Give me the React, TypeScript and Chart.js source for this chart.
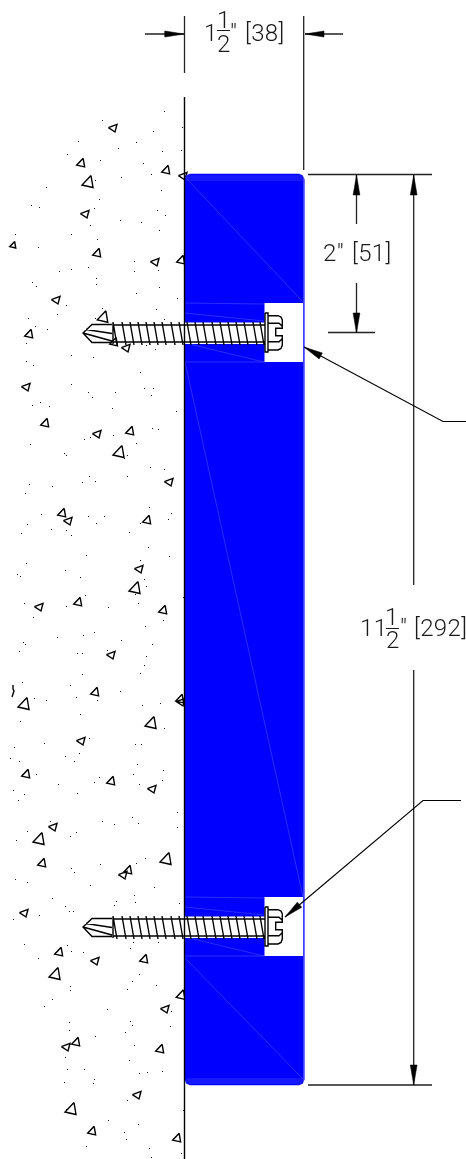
import React, { useEffect, useRef } from "react";
import { Chart, registerables } from "chart.js";

Chart.register(...registerables);

type P = [number, number];

const W = 466;
const H = 1159;
const GAP: P = [NaN, NaN];

// Aggregate grains: large-ish triangles whose flat base faces down [x, y, size]
const grainsUp: [number, number, number][] = [
  [81, 163, 0.72], [88, 182, 1], [166, 170, 0.72], [13, 245, 0.55], [97, 253, 0.72], [181, 260, 0.72],
  [103, 317, 0.95], [29, 334, 0.72], [114, 342, 0.7], [45, 423, 0.72], [130, 431, 0.72], [119, 452, 1],
  [62, 513, 0.72], [147, 520, 0.72], [135, 588, 1], [78, 602, 0.72], [163, 610, 0.72], [95, 692, 0.72],
  [24, 704, 1], [180, 699, 0.72], [151, 723, 1], [26, 774, 0.72], [111, 781, 0.72], [39, 839, 1],
  [42, 863, 0.72], [166, 859, 1], [128, 870, 0.72], [59, 952, 0.72], [144, 959, 0.72], [55, 974, 1],
  [181, 995, 0.8], [76, 1042, 0.72], [160, 1049, 0.72], [71, 1109, 1], [92, 1131, 0.72], [177, 1138, 0.72],
];
// Aggregate grains: triangles pointing left [x, y]
const grainsLeft: P[] = [
  [113, 128], [183, 176], [85, 214], [155, 262], [56, 300], [126, 348], [26, 387], [97, 434], [169, 482],
  [68, 521], [139, 569], [39, 607], [111, 655], [181, 702], [81, 741], [152, 789], [53, 827], [123, 875],
  [24, 913], [95, 961], [165, 1009], [66, 1047], [137, 1095],
];
// Small nick of a broken grain near the left edge
const grainNick: P[] = [[13, 685], [13, 689], [14, 691], [12, 697]];
// Sand specks
const specks: P[] = [
  [164,111],[102,120],[153,131],[182,127],[78,141],[136,142],[118,148],[162,151],[181,150],[67,154],[100,160],[143,163],[151,174],[121,177],[95,180],[46,187],[161,190],[99,199],[31,205],[39,207],[94,208],[157,210],[165,215],[120,220],[141,222],[90,225],[159,230],[15,234],[71,234],[97,239],[38,247],[134,261],[88,267],[71,269],[59,271],[134,271],[158,270],[96,278],[32,282],[36,286],[96,284],[159,287],[136,293],[177,298],[66,305],[156,309],[102,308],[57,314],[28,318],[95,318],[164,319],[35,326],[47,329],[26,343],[146,345],[155,349],[71,355],[93,357],
  [26,361],[33,365],[140,372],[71,384],[144,388],[153,388],[88,392],[115,392],[92,397],[151,395],[32,405],[40,402],[49,406],[112,408],[176,411],[152,428],[158,429],[84,439],[90,437],[113,435],[136,443],[30,444],[64,453],[66,455],[127,455],[124,458],[150,467],[164,469],[89,476],[127,476],[82,482],[95,481],[29,484],[52,486],[25,493],[149,507],[41,514],[171,513],[88,516],[104,516],[168,519],[27,524],[96,523],[140,523],[51,529],[66,530],[21,533],[129,532],[71,535],[148,547],[86,555],[169,556],[140,560],[26,563],[65,570],[17,574],[20,576],[80,577],[144,579],[146,586],[85,595],[135,594],[183,597],[24,603],[138,603],[66,606],[108,607],[33,617],[163,620],[145,626],
  [94,632],[83,635],[57,637],[121,640],[23,642],[25,644],[152,644],[184,642],[19,651],[107,650],[77,653],[82,653],[146,656],[144,665],[82,674],[140,673],[22,682],[70,685],[120,691],[76,697],[34,698],[46,700],[97,700],[142,705],[160,703],[80,714],[20,721],[164,728],[89,738],[44,743],[135,744],[141,744],[14,747],[79,753],[65,756],[10,758],[19,761],[74,761],[137,764],[163,770],[36,774],[133,774],[99,777],[162,780],[94,782],[58,784],[139,784],[13,790],[24,794],[77,793],[18,800],[177,812],[132,817],[102,821],[50,821],[114,824],[138,823],[27,831],[177,827],[76,832],[70,836],[16,840],[145,858],[136,863],[100,864],[71,868],[74,872],[15,879],[27,882],[90,885],[154,887],[134,895],[52,898],
  [116,901],[135,902],[114,905],[65,906],[179,903],[69,911],[73,911],[39,915],[13,919],[133,942],[158,942],[24,944],[67,945],[130,948],[71,951],[83,952],[38,958],[139,974],[132,981],[156,985],[70,986],[70,990],[127,989],[52,999],[44,1006],[107,1009],[171,1011],[130,1021],[69,1022],[132,1025],[170,1026],[69,1030],[125,1032],[95,1036],[134,1045],[65,1057],[129,1060],[67,1069],[84,1069],[139,1073],[147,1072],[162,1071],[94,1079],[93,1083],[64,1082],[127,1100],[66,1109],[183,1110],[108,1120],[138,1124],[124,1132],[126,1139],[86,1146],[149,1148],[181,1153],[151,1157],
];

// Screw: thread starts along the shank, and the offset of each screw from the first
const threadStarts = [113,122,130,138,146,154,162,171,179,187,195,203,212,220,228,236,244,253,260];
const screwOffsets = [0, 594];

// Labels: [text, x, baseline y]
const labels: [string, number, number][] = [
  ["1", 204, 41], ["1", 217, 28], ["2", 217, 52], ['"', 230, 41], ["[38]", 245, 41],
  ['2"', 323, 261], ["[51]", 352, 261],
  ["11", 360, 636], ["1", 385, 625], ["2", 386, 648], ['"', 400, 636], ["[292]", 414, 636],
];
const fractionBars: [number, number, number][] = [[217, 230, 30], [386, 399, 628]];

const BLUE = "#0000ff";
const FAINT = "#3f3fff";
const INK = "#000000";
const DIM = "#222222";

const path = (...lines: P[][]): P[] => lines.flatMap((l, i) => (i ? [GAP, ...l] : l));
const moved = (l: P[], dy: number): P[] => l.map(([x, y]) => [x, y + dy] as P);

const arrowHead = (tip: P, from: P, len = 20, half = 3.4): P[] => {
  const dx = from[0] - tip[0];
  const dy = from[1] - tip[1];
  const d = Math.hypot(dx, dy);
  const ux = dx / d;
  const uy = dy / d;
  const bx = tip[0] + ux * len;
  const by = tip[1] + uy * len;
  return [tip, [bx - uy * half, by + ux * half], [bx + uy * half, by - ux * half], tip];
};

const grainPaths: P[] = path(
  ...grainsUp.map(([x, y, s]) => [[x + 3 * s, y - 6.5 * s], [x - 6 * s, y + 3 * s], [x + 5 * s, y + 5.5 * s], [x + 3 * s, y - 6.5 * s]] as P[]),
  ...grainsLeft.map(([x, y]) => [[x - 4.6, y - 0.3], [x + 4, y - 3.7], [x + 2, y + 4], [x - 4.6, y - 0.3]] as P[]),
  grainNick,
);

const r = 5;
const blockOutline: P[] = [
  [185, 174 + r], [186.5, 175.5], [185 + r, 174], [304 - r, 174], [302.5, 175.5], [304, 174 + r],
  [304, 1085 - r], [302.5, 1083.5], [304 - r, 1085], [185 + r, 1085], [186.5, 1083.5], [185, 1085 - r], [185, 174 + r],
];

const notchRect = (dy: number): P[] => [[264.5, 303 + dy], [303, 303 + dy], [303, 362 + dy], [264.5, 362 + dy], [264.5, 303 + dy]];
const shankRect = (dy: number): P[] => [[185, 322.5 + dy], [265, 322.5 + dy], [265, 344 + dy], [185, 344 + dy], [185, 322.5 + dy]];

const faintLines: P[] = path(
  [[185, 177], [304, 303]],
  [[186, 176], [303, 176]], [[186, 178], [303, 178]], [[186, 180], [303, 180]],
  [[185, 303], [264, 304]], [[185, 313], [264, 321]], [[185, 343], [264, 362]], [[185, 362], [264, 362]],
  [[185, 362], [303, 897]],
  [[185, 897], [264, 898]], [[185, 907], [264, 915]], [[185, 937], [264, 956]], [[185, 956], [264, 956]],
  [[185, 958], [303, 1079]],
  [[186, 1079], [303, 1079]], [[186, 1081], [303, 1081]], [[188, 1083], [301, 1083]],
  [[303.5, 178], [303.5, 1081]],
);

const screw = (dy: number): P[] =>
  path(
    // drill tip
    moved([[112, 324.5], [92, 324.5], [83, 333], [92, 342.5], [112, 342.5]], dy),
    moved([[86, 329.5], [112, 333.5]], dy),
    moved([[83, 333], [112, 341]], dy),
    moved([[113, 323], [113, 344]], dy),
    // shank
    moved([[113, 325], [265, 325]], dy),
    moved([[113, 342], [265, 342]], dy),
    // threads
    ...threadStarts.map((x) => moved([[x, 322], [x + 4, 345]], dy)),
    // flange
    moved([[265, 313], [268, 313], [268, 352], [265, 352], [265, 313]], dy),
    // hex head
    moved([[268.3, 315.7], [278, 315.7], [281, 317], [282.3, 320], [282.3, 328.3], [275.7, 328.3], [275.7, 335.7], [282.3, 335.7], [282.3, 345], [281, 348.5], [278, 350], [268.3, 350]], dy),
    moved([[268.3, 323.3], [279, 323.3], [282, 326]], dy),
    moved([[268.3, 341.7], [279, 341.7], [282, 339]], dy),
  );

const wallLines: P[] = path([[184.5, 97], [184.5, 1159]]);
const dimLines: P[] = path(
  [[184.5, 16], [184.5, 73]], [[303.7, 16], [303.7, 170]],
  [[145, 34], [184, 34]], [[305, 34], [343, 34]],
  [[308, 174.5], [432, 174.5]], [[308, 1085], [432, 1085]],
  [[356.5, 175], [356.5, 224]], [[356.5, 283], [356.5, 333]], [[328, 332.5], [375, 332.5]],
  [[413.7, 175], [413.7, 585]], [[413.7, 670], [413.7, 1085]],
);
const leaders: P[] = path(
  [[304, 347], [443, 421.5], [466, 421.5]],
  [[285, 917], [423, 800.5], [461, 800.5]],
);
const arrows: P[][] = [
  arrowHead([184, 34], [145, 34], 19, 3),
  arrowHead([305, 34], [343, 34], 19, 3),
  arrowHead([356.5, 175], [356.5, 224]),
  arrowHead([356.5, 333], [356.5, 283]),
  arrowHead([413.7, 175], [413.7, 585]),
  arrowHead([413.7, 1085], [413.7, 670]),
  arrowHead([304, 347], [443, 421.5], 19, 3.4),
  arrowHead([285, 917], [423, 800.5], 19, 3.4),
];

const toData = (pts: P[]) => pts.map(([x, y]) => ({ x, y }));
const line = (pts: P[], color: string, width: number, fill: boolean | string = false) => ({
  data: toData(pts),
  showLine: true,
  borderColor: color,
  backgroundColor: color,
  borderWidth: width,
  pointRadius: 0,
  fill,
  tension: 0,
  spanGaps: false,
  clip: false as const,
});

const textPlugin = {
  id: "drawingText",
  afterDraw(chart: Chart) {
    const { ctx, scales } = chart;
    ctx.save();
    ctx.fillStyle = "#1a1a1a";
    ctx.textAlign = "left";
    ctx.textBaseline = "alphabetic";
    ctx.font = '300 24px Roboto, "Liberation Sans", sans-serif';
    (ctx as any).letterSpacing = "0.4px";
    for (const [t, x, y] of labels) ctx.fillText(t, scales.x.getPixelForValue(x), scales.y.getPixelForValue(y));
    ctx.strokeStyle = "#1a1a1a";
    ctx.lineWidth = 1;
    for (const [a, b, y] of fractionBars) {
      ctx.beginPath();
      ctx.moveTo(scales.x.getPixelForValue(a), scales.y.getPixelForValue(y) + 0.5);
      ctx.lineTo(scales.x.getPixelForValue(b), scales.y.getPixelForValue(y) + 0.5);
      ctx.stroke();
    }
    ctx.restore();
  },
};

export default function App() {
  const ref = useRef<HTMLCanvasElement>(null);
  useEffect(() => {
    document.body.style.margin = "0";
    const datasets: any[] = [
      ...arrows.map((a) => line(a, INK, 0.5, "shape")),
      line(leaders, INK, 1.1),
      line(dimLines, DIM, 1.3),
      ...screwOffsets.map((dy) => line(screw(dy), "#000000", 1.4)),
      line(wallLines, INK, 1.4),
      ...screwOffsets.map((dy) => line(shankRect(dy), "#ffffff", 0, "shape")),
      ...screwOffsets.map((dy) => line(notchRect(dy), "#ffffff", 0, "shape")),
      line(faintLines, FAINT, 0.7),
      line(blockOutline, BLUE, 0.5, "shape"),
      line(grainPaths, "#000000", 1.4),
      {
        data: toData(specks).map(({ x, y }) => ({ x: x + 0.5, y: y + 0.5 })),
        showLine: false,
        pointStyle: "rect",
        pointRadius: 0.7,
        pointBorderWidth: 0,
        pointBackgroundColor: "#111111",
      },
    ];
    const chart = new Chart(ref.current!, {
      type: "scatter",
      data: { datasets },
      options: {
        animation: false,
        responsive: false,
        devicePixelRatio: 1,
        layout: { padding: 0, autoPadding: false },
        plugins: { legend: { display: false }, tooltip: { enabled: false } },
        events: [],
        scales: {
          x: { type: "linear", min: 0, max: W, display: false },
          y: { type: "linear", min: 0, max: H, reverse: true, display: false },
        },
      },
      plugins: [textPlugin],
    });
    return () => chart.destroy();
  }, []);
  return <canvas ref={ref} width={W} height={H} style={{ display: "block", position: "absolute", left: 0, top: 0, background: "#fff" }} />;
}
